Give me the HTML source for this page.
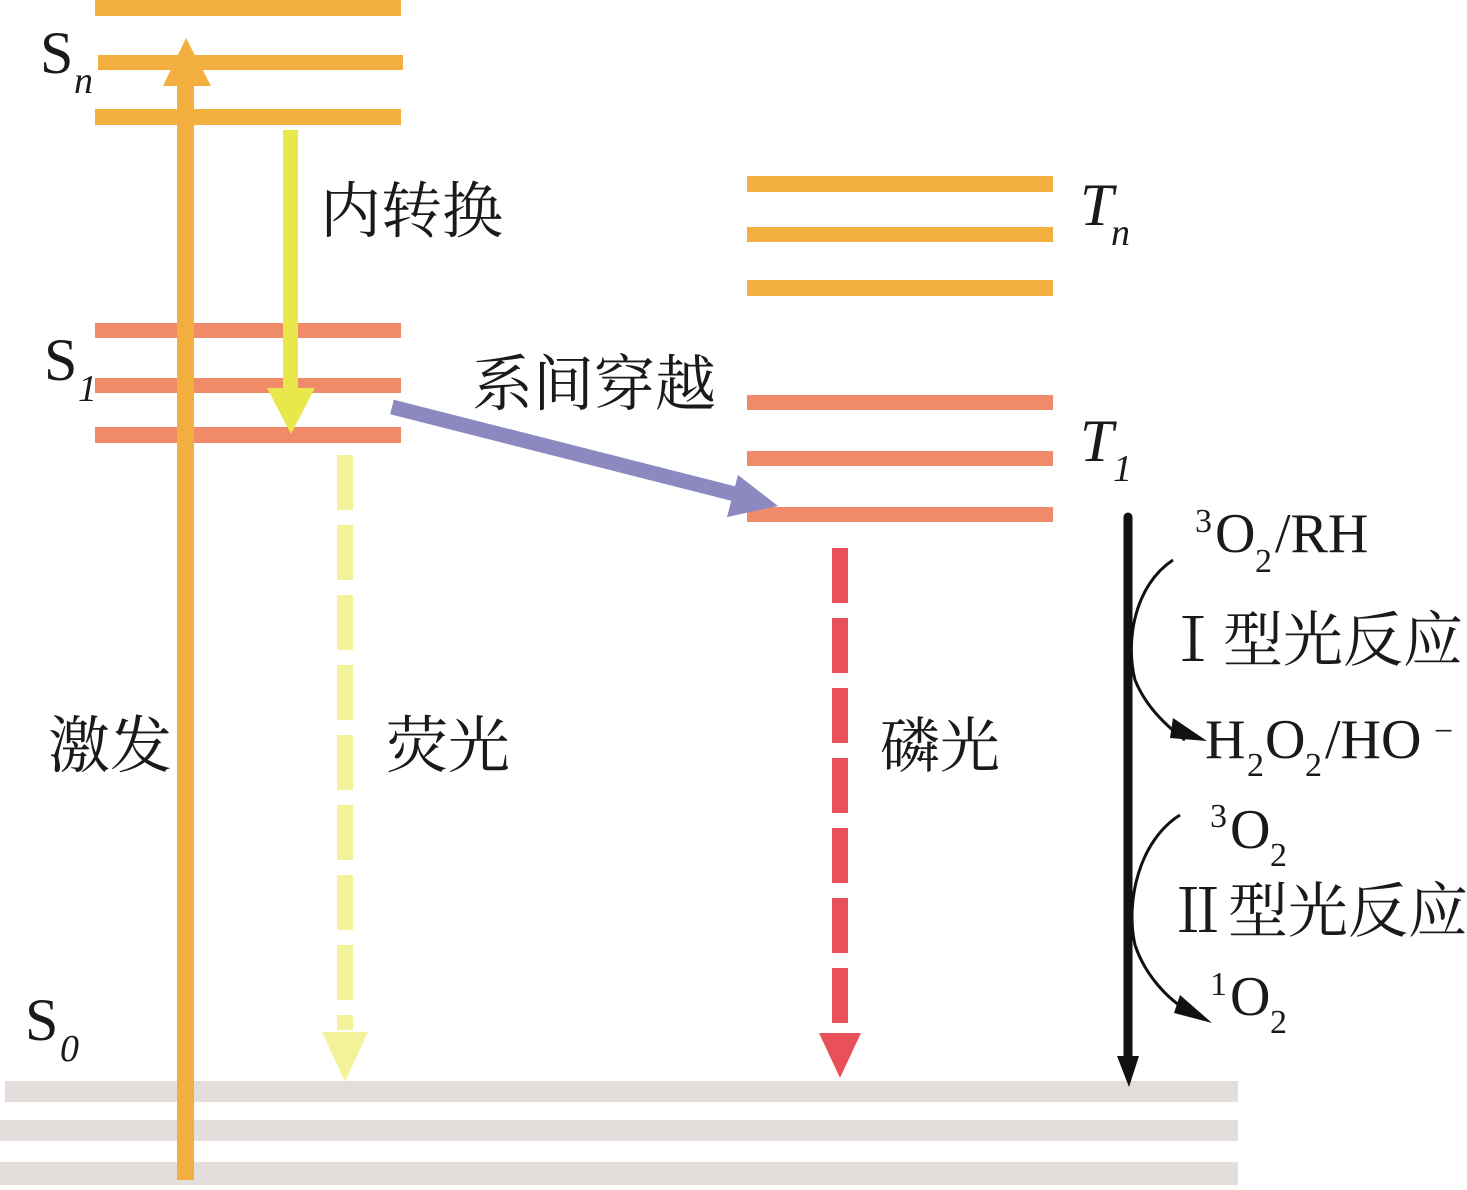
<!DOCTYPE html>
<html><head><meta charset="utf-8"><style>
html,body{margin:0;padding:0;background:#fff;}
svg{display:block;}
text{font-family:"Liberation Serif","Noto Serif CJK SC",serif;fill:#1a1a1a;}
</style></head><body>
<svg width="1467" height="1190" viewBox="0 0 1467 1190" xmlns="http://www.w3.org/2000/svg">
<g fill="#E3DDDC">
<rect x="5" y="1081" width="1233" height="21"/>
<rect x="0" y="1120" width="1238" height="21"/>
<rect x="0" y="1162" width="1238" height="23"/>
</g>
<g fill="#F2AE3E">
<rect x="95" y="0" width="306" height="16"/>
<rect x="98" y="55" width="305" height="15"/>
<rect x="95" y="109" width="306" height="16"/>
<rect x="747" y="176" width="306" height="16"/>
<rect x="747" y="227" width="306" height="15"/>
<rect x="747" y="280" width="306" height="16"/>
</g>
<g fill="#F08B69">
<rect x="95" y="323" width="306" height="15"/>
<rect x="95" y="378" width="306" height="15"/>
<rect x="95" y="427" width="306" height="16"/>
<rect x="747" y="395" width="306" height="15"/>
<rect x="747" y="451" width="306" height="15"/>
<rect x="747" y="507" width="306" height="15"/>
</g>
<rect x="177" y="80" width="17" height="1100" fill="#F2AE3E"/>
<polygon points="186,38 163,86 211,86" fill="#F2AE3E"/>
<rect x="283" y="130" width="15" height="262" fill="#E8E84C"/>
<polygon points="267,388 315,388 291,434" fill="#E8E84C"/>
<line x1="345" y1="455" x2="345" y2="1030" stroke="#F3F29A" stroke-width="16" stroke-dasharray="55,15"/>
<polygon points="322,1032 368,1032 345,1082" fill="#F3F29A"/>
<line x1="392" y1="407" x2="735" y2="494" stroke="#8C88C0" stroke-width="15"/>
<polygon points="778,506 738,475 727,517" fill="#8C88C0"/>
<line x1="840" y1="548" x2="840" y2="1030" stroke="#E8515A" stroke-width="16" stroke-dasharray="55,15"/>
<polygon points="819,1033 861,1033 840,1078" fill="#E8515A"/>
<line x1="1128" y1="517" x2="1128" y2="1060" stroke="#111" stroke-width="9" stroke-linecap="round"/>
<polygon points="1117,1056 1139,1056 1129,1087" fill="#111"/>
<path d="M1173,560 C1135,585 1125,640 1135,680 C1145,705 1165,725 1185,740" fill="none" stroke="#111" stroke-width="3"/>
<polygon points="1207,741 1173,718 1170,738" fill="#111"/>
<path d="M1180,815 C1140,840 1125,900 1135,945 C1145,975 1168,1000 1190,1012" fill="none" stroke="#111" stroke-width="3"/>
<polygon points="1212,1023 1180,995 1174,1013" fill="#111"/>
<text x="40" y="73" font-size="60">S</text><text x="74" y="93" font-size="38" font-style="italic">n</text>
<text x="44" y="380" font-size="60">S</text><text x="78" y="401" font-size="38" font-style="italic">1</text>
<text x="25" y="1040" font-size="60">S</text><text x="60" y="1061" font-size="38" font-style="italic">0</text>
<text x="1080" y="225" font-size="60" font-style="italic">T</text><text x="1111" y="245" font-size="38" font-style="italic">n</text>
<text x="1080" y="461" font-size="60" font-style="italic">T</text><text x="1113" y="481" font-size="38" font-style="italic">1</text>
<text x="320" y="232" font-size="61">内转换</text>
<text x="472" y="405" font-size="61">系间穿越</text>
<text x="48" y="767" font-size="62">激发</text>
<text x="386" y="767" font-size="62">荧光</text>
<text x="880" y="767" font-size="60">磷光</text>
<text x="1195" y="532" font-size="34">3</text><text x="1215" y="552" font-size="56">O</text><text x="1255" y="572" font-size="34">2</text><text x="1275" y="552" font-size="56">/RH</text>
<text x="1163" y="661" font-size="60">Ⅰ型光反应</text>
<text x="1205" y="758" font-size="56">H</text><text x="1247" y="776" font-size="34">2</text><text x="1265" y="758" font-size="56">O</text><text x="1305" y="776" font-size="34">2</text><text x="1325" y="758" font-size="56">/HO</text><text x="1434" y="742" font-size="34">−</text>
<text x="1210" y="827" font-size="34">3</text><text x="1230" y="848" font-size="56">O</text><text x="1270" y="866" font-size="34">2</text>
<text x="1168" y="932" font-size="60">Ⅱ型光反应</text>
<text x="1210" y="995" font-size="34">1</text><text x="1230" y="1015" font-size="56">O</text><text x="1270" y="1033" font-size="34">2</text>
</svg>
</body></html>
